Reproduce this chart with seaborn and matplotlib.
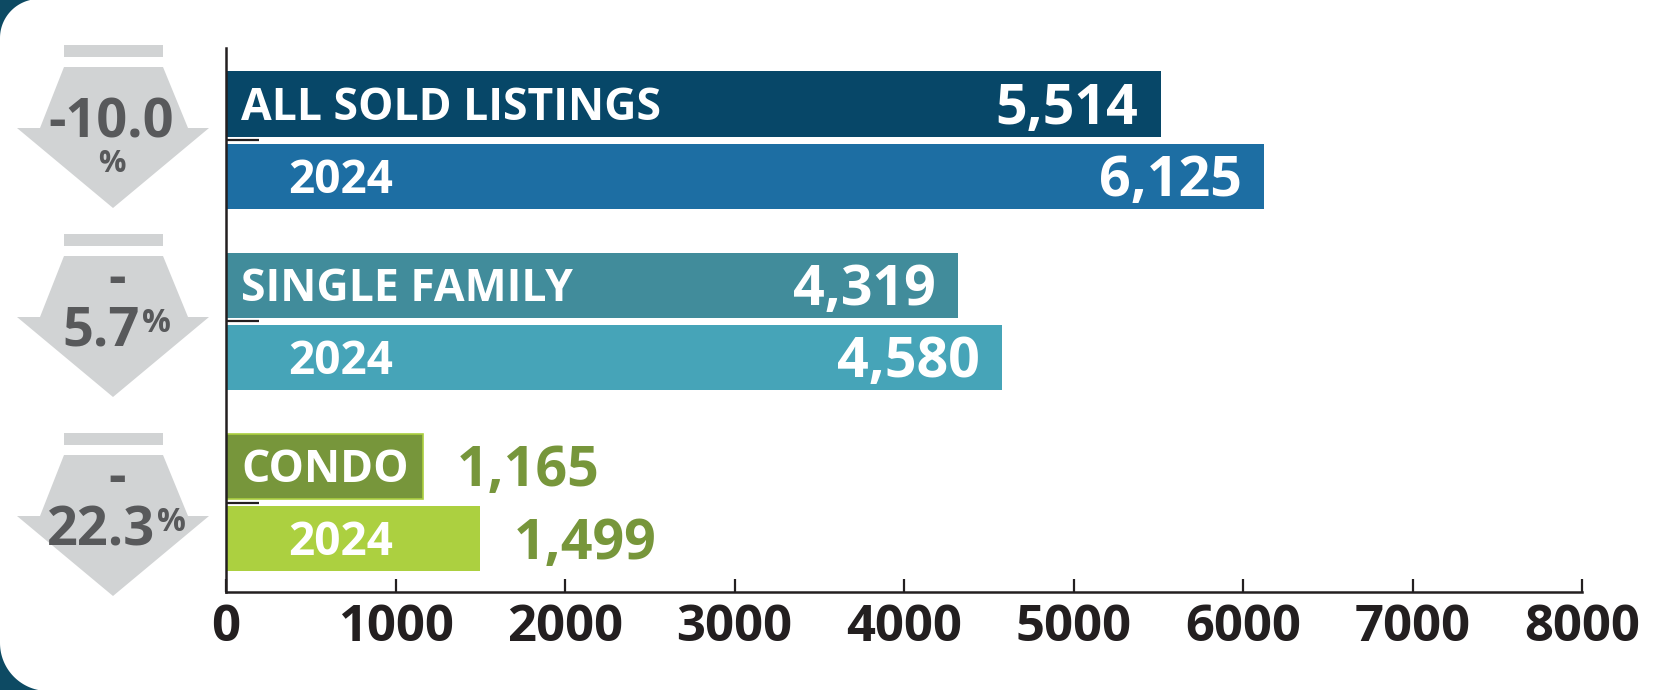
import numpy as np
import pandas as pd
import matplotlib
matplotlib.use("Agg")
import matplotlib.pyplot as plt
import seaborn as sns
from matplotlib.patches import Polygon, Rectangle
from matplotlib.text import Annotation

# ---------------- data ----------------
categories = ["ALL SOLD LISTINGS", "SINGLE FAMILY", "CONDO"]
current_values = [5514, 4319, 1165]
prior_values = [6125, 4580, 1499]
prior_label = "2024"
pct_change = ["-10.0", "-5.7", "-22.3"]
x_ticks = [0, 1000, 2000, 3000, 4000, 5000, 6000, 7000, 8000]

# ---------------- styles ----------------
current_colors = ["#074768", "#418c9b", "#77963b"]
prior_colors = ["#1d6ea3", "#46a4b8", "#acd040"]
value_text_colors = ["white", "white", "#77963b"]
pct_wrap = ["below", "split", "split"]   # how the % label wraps inside each arrow
BG_DARK = "#0d4a63"
ARROW_GRAY = "#d1d3d4"
PCT_GRAY = "#58595b"
AXIS_COLOR = "#231f20"

sns.set_theme(style="white")
plt.rcParams["font.family"] = ["Open Sans", "DejaVu Sans"]
plt.rcParams["font.weight"] = "bold"

W, H = 1678, 690
fig = plt.figure(figsize=(W / 100, H / 100), dpi=100)
fig.patch.set_facecolor(BG_DARK)


def fp(x, y):
    """top-origin pixel -> figure fraction"""
    return (x / W, 1 - y / H)


# white rounded panel
rt, rb = 39, 48
y0, yb = -1, 691
pts = []
for t in np.linspace(0, np.pi / 2, 40):
    pts.append((rt - rt * np.cos(t), y0 + rt - rt * np.sin(t)))
pts += [(W + 20, y0), (W + 20, yb)]
for t in np.linspace(np.pi / 2, 0, 40):
    pts.append((rb - rb * np.cos(t), yb - rb + rb * np.sin(t)))
panel = Polygon([fp(*p) for p in pts], closed=True, transform=fig.transFigure,
                facecolor="white", edgecolor="none", zorder=-5)
fig.add_artist(panel)

# ---------------- bars ----------------
ax = fig.add_axes([226 / W, 1 - 592 / H, (1582 - 226) / W, (592 - 48) / H])
ax.set_facecolor("none")

df = pd.DataFrame({
    "category": categories * 2,
    "period": ["current"] * len(categories) + [prior_label] * len(categories),
    "value": current_values + prior_values,
})
sns.barplot(data=df, y="category", x="value", hue="period", orient="h", ax=ax,
            width=0.8, gap=0.1, legend=False, saturation=1, errorbar=None)

for hi, cont in enumerate(ax.containers):
    for bar in cont:
        ci = int(round(bar.get_y() + bar.get_height() / 2))
        if hi == 0:
            bar.set_facecolor(current_colors[ci])
            if ci == 2:
                bar.set_edgecolor(prior_colors[ci])
                bar.set_linewidth(1.2)
            else:
                bar.set_edgecolor("none")
        else:
            bar.set_facecolor(prior_colors[ci])
            bar.set_edgecolor("none")

ax.set_xlim(0, 8000)
ax.set_ylim(2.494, -0.509)
ax.set_xticks(x_ticks)
ax.set_xticklabels([str(t) for t in x_ticks], fontsize=36.5, fontweight="bold",
                   color=AXIS_COLOR)
ax.set_yticks(range(len(categories)))
ax.set_yticklabels([])
ax.set_xlabel("")
ax.set_ylabel("")
ax.tick_params(axis="y", direction="in", length=24, width=1.6, color=AXIS_COLOR,
               left=True)
ax.tick_params(axis="x", direction="in", length=9.5, width=1.6, color=AXIS_COLOR,
               bottom=True, pad=8)
sns.despine(ax=ax)
for s in ["left", "bottom"]:
    ax.spines[s].set_linewidth(1.8)
    ax.spines[s].set_color(AXIS_COLOR)

CAP = 0.714


def label(txt, x, y, dx, fs, color, ha):
    ax.annotate(txt, xy=(x, y), xytext=(dx, -CAP * fs / 2), textcoords="offset points",
                ha=ha, va="baseline", fontsize=fs, fontweight="bold", color=color,
                annotation_clip=False)


CAT_FS = 32
YEAR_FS = 33
VAL_FS = 40
for i, cat in enumerate(categories):
    yc, yp = i - 0.2, i + 0.2
    label(cat, 0, yc, 11, CAT_FS, "white", "left")
    label(prior_label, 0, yp, 45, YEAR_FS, "white", "left")
    for v, yy in [(current_values[i], yc), (prior_values[i], yp)]:
        s = f"{v:,}"
        if v > 2500:
            label(s, v, yy, -16, VAL_FS, value_text_colors[i], "right")
        else:
            label(s, v, yy, 24, VAL_FS, value_text_colors[i], "left")

# ---------------- change arrows ----------------
arrow_tops = [45, 234, 433]
PCT_FS = 39
for i, t in enumerate(arrow_tops):
    rx0, ry0 = fp(64, t + 12)
    rx1, ry1 = fp(163, t)
    fig.add_artist(Rectangle((rx0, ry0), rx1 - rx0, ry1 - ry0, transform=fig.transFigure,
                             facecolor=ARROW_GRAY, edgecolor="none"))
    shape = [(64, t + 22), (163, t + 22), (188, t + 83), (209, t + 83), (113, t + 163),
             (17, t + 83), (40, t + 83)]
    fig.add_artist(Polygon([fp(*p) for p in shape], closed=True, transform=fig.transFigure,
                           facecolor=ARROW_GRAY, edgecolor="none"))
    num = pct_change[i]
    if pct_wrap[i] == "below":
        fig.text(*fp(111, t + 93), num, ha="center", va="baseline", fontsize=PCT_FS,
                 fontweight="bold", color=PCT_GRAY, zorder=3)
        fig.text(*fp(112, t + 127), "%", ha="center", va="baseline", fontsize=22,
                 fontweight="bold", color=PCT_GRAY, zorder=3)
    else:
        sign, body = num[0], num[1:]
        fig.text(*fp(117, t + 60), sign, ha="center", va="baseline", fontsize=PCT_FS,
                 fontweight="bold", color=PCT_GRAY, zorder=3)
        body_txt = fig.text(*fp(101, t + 112), body, ha="center", va="baseline",
                            fontsize=PCT_FS, fontweight="bold", color=PCT_GRAY, zorder=3)
        ann = Annotation("%", xy=(1, 1), xycoords=body_txt, xytext=(1.5, -1.5),
                         textcoords="offset points", ha="left", va="top", fontsize=23,
                         fontweight="bold", color=PCT_GRAY, annotation_clip=False)
        ann.set_zorder(3)
        fig.add_artist(ann)

fig.savefig("out.png", dpi=100, facecolor=fig.get_facecolor())
